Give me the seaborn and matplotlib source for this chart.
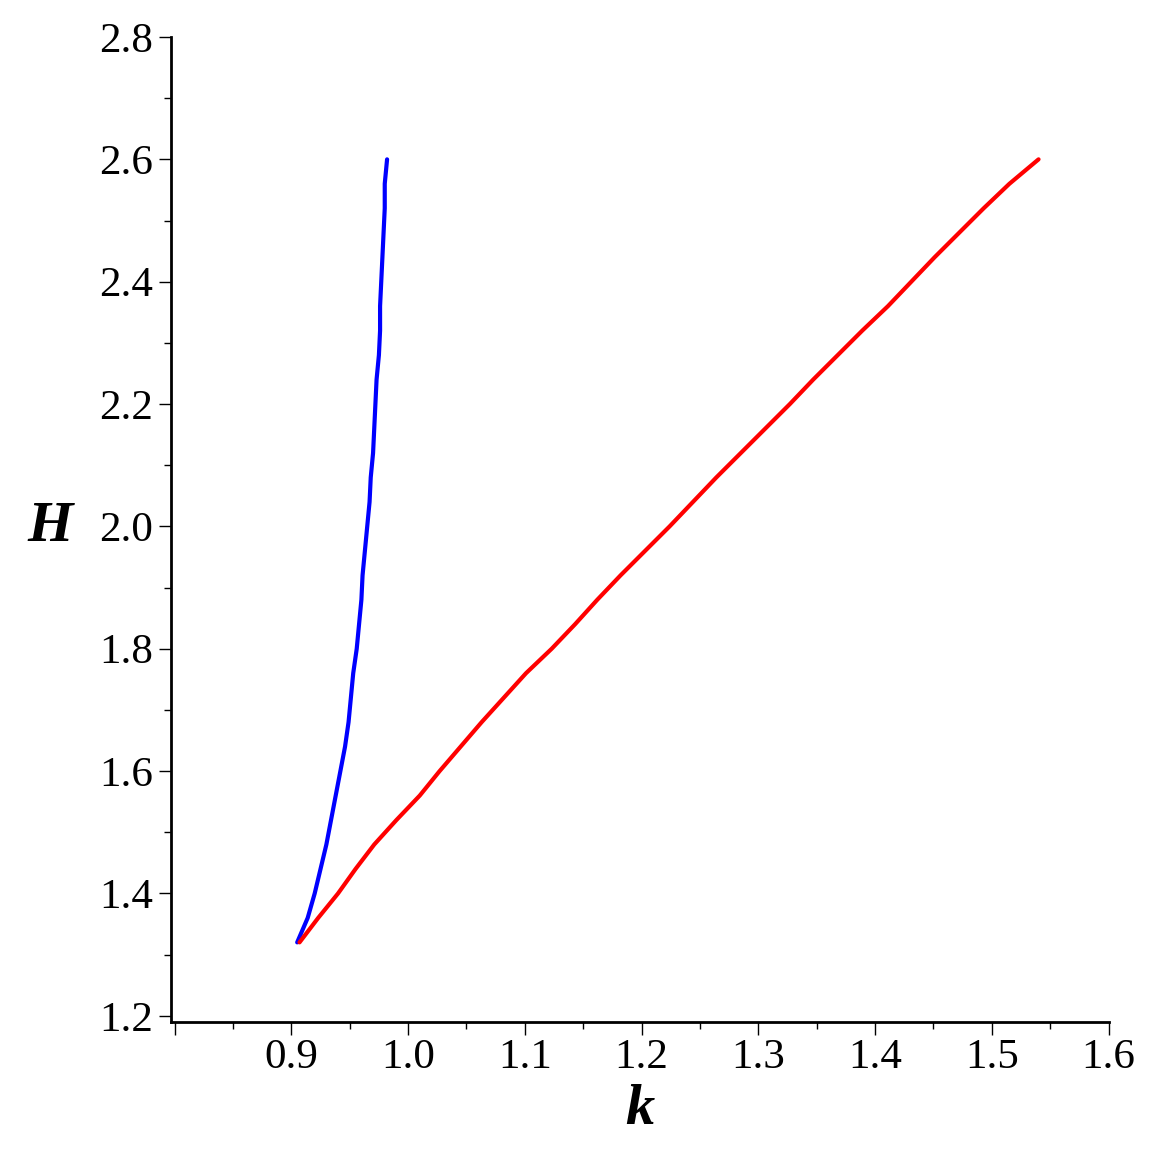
import numpy as np
import pandas as pd
import matplotlib
matplotlib.use("Agg")
import matplotlib.pyplot as plt
import seaborn as sns
from matplotlib.ticker import MultipleLocator

# --- dados ---
H_vals = [1.32, 1.36, 1.40, 1.44, 1.48, 1.52, 1.56, 1.60, 1.64, 1.68, 1.72,
          1.76, 1.80, 1.84, 1.88, 1.92, 1.96, 2.00, 2.04, 2.08, 2.12, 2.16,
          2.20, 2.24, 2.28, 2.32, 2.36, 2.40, 2.44, 2.48, 2.52, 2.56, 2.60]

k_blue = [0.905, 0.914, 0.920, 0.925, 0.930, 0.934, 0.938, 0.942, 0.946, 0.949, 0.951,
          0.953, 0.956, 0.958, 0.960, 0.961, 0.963, 0.965, 0.967, 0.968, 0.970, 0.971,
          0.972, 0.973, 0.975, 0.976, 0.976, 0.977, 0.978, 0.979, 0.980, 0.980, 0.982]

k_red = [0.907, 0.923, 0.940, 0.955, 0.971, 0.990, 1.010, 1.027, 1.045, 1.063, 1.082,
         1.101, 1.123, 1.143, 1.162, 1.182, 1.203, 1.224, 1.244, 1.264, 1.285, 1.306,
         1.327, 1.347, 1.368, 1.389, 1.411, 1.431, 1.451, 1.472, 1.493, 1.515, 1.540]

x_ticks = [0.8, 0.9, 1.0, 1.1, 1.2, 1.3, 1.4, 1.5, 1.6]
x_labels = ["", "0.9", "1.0", "1.1", "1.2", "1.3", "1.4", "1.5", "1.6"]
y_ticks = [1.2, 1.4, 1.6, 1.8, 2.0, 2.2, 2.4, 2.6, 2.8]
y_labels = ["1.2", "1.4", "1.6", "1.8", "2.0", "2.2", "2.4", "2.6", "2.8"]

df = pd.concat([
    pd.DataFrame({"k": k_blue, "H": H_vals, "curva": "azul"}),
    pd.DataFrame({"k": k_red, "H": H_vals, "curva": "vermelha"}),
])

sns.set_style("ticks")
plt.rcParams["font.family"] = ["Liberation Serif", "DejaVu Serif"]
plt.rcParams["text.color"] = "black"

fig = plt.figure(figsize=(11.56, 11.56), dpi=100)
ax = fig.add_axes([0.148, 0.116, 0.811, 0.852])

sns.lineplot(data=df, x="k", y="H", hue="curva",
             palette={"azul": "#0000ff", "vermelha": "#ff0000"},
             sort=False, estimator=None, legend=False, linewidth=3, ax=ax)

ax.set_xlim(0.797, 1.6)
ax.set_ylim(1.19, 2.8)

ax.set_xticks(x_ticks)
ax.set_xticklabels(x_labels)
ax.set_yticks(y_ticks)
ax.set_yticklabels(y_labels)
ax.xaxis.set_minor_locator(MultipleLocator(0.05))
ax.yaxis.set_minor_locator(MultipleLocator(0.1))

ax.tick_params(axis="both", which="major", length=9, width=1, labelsize=31, pad=4, colors="black")
ax.tick_params(axis="both", which="minor", length=5, width=1, colors="black")
ax.tick_params(axis="x", which="major", pad=3)

for s in ["top", "right"]:
    ax.spines[s].set_visible(False)
for s in ["left", "bottom"]:
    ax.spines[s].set_linewidth(2)
    ax.spines[s].set_color("black")

ax.set_xlabel("")
ax.set_ylabel("")
fig.text(640 / 1156, 1 - 1110 / 1156, "k", fontsize=42, fontweight="bold", fontstyle="italic",
         ha="center", va="center", color="black")
fig.text(50 / 1156, 1 - 527 / 1156, "H", fontsize=42, fontweight="bold", fontstyle="italic",
         ha="center", va="center", color="black")

fig.savefig("out.png", dpi=100, facecolor="white")
